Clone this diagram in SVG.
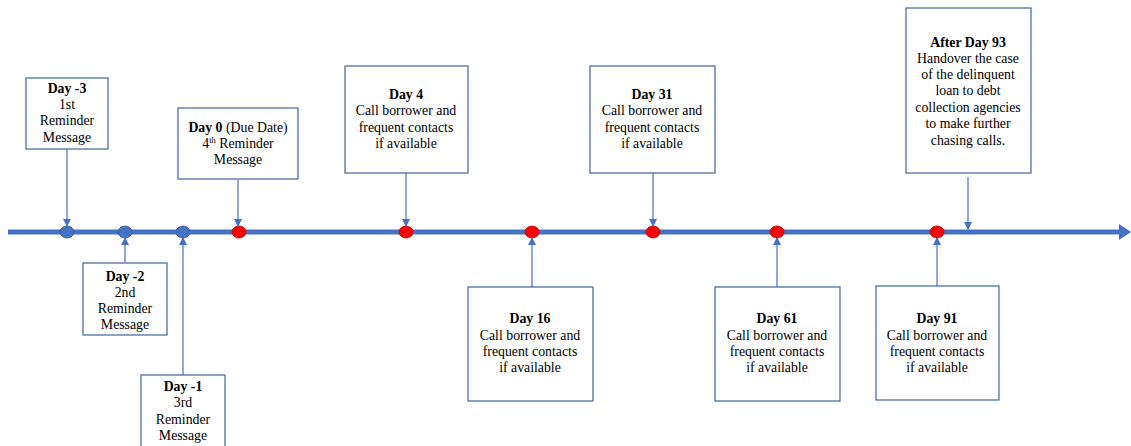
<svg xmlns="http://www.w3.org/2000/svg" width="1131" height="446" viewBox="0 0 1131 446">
<defs>
<marker id="ah" markerWidth="8" markerHeight="8" refX="7" refY="4" orient="auto" markerUnits="userSpaceOnUse">
<path d="M0,0 L8,4 L0,8 Z" fill="#4472C4"/>
</marker>
<style>
.box{fill:#fff;stroke:#41639F;stroke-width:1.2}
.t{font-family:"Liberation Serif","Times New Roman",serif;font-size:13.8px;fill:#000;text-anchor:middle}
.b{font-weight:bold}
.c{stroke:#4472C4;stroke-width:1.2;fill:none;marker-end:url(#ah)}
.bd{fill:#4472C4;stroke:#2F5597;stroke-width:0.8}
.rd{fill:#FF0000;stroke:#C00000;stroke-width:0.8}
</style>
</defs>
<rect width="1131" height="446" fill="#fff"/>
<g id="timeline">
<line x1="8" y1="232" x2="1120" y2="232" stroke="#4472C4" stroke-width="5"/>
<path d="M1119,224 L1131,232 L1119,240 Z" fill="#4472C4"/>
<ellipse class="bd" cx="67" cy="232" rx="7" ry="6"/>
<ellipse class="bd" cx="125" cy="232" rx="7" ry="6"/>
<ellipse class="bd" cx="183" cy="232" rx="7" ry="6"/>
<ellipse class="rd" cx="239" cy="232" rx="7" ry="6"/>
<ellipse class="rd" cx="406" cy="232" rx="7" ry="6"/>
<ellipse class="rd" cx="532" cy="232" rx="7" ry="6"/>
<ellipse class="rd" cx="653" cy="232" rx="7" ry="6"/>
<ellipse class="rd" cx="777" cy="232" rx="7" ry="6"/>
<ellipse class="rd" cx="937" cy="232" rx="7" ry="6"/>
</g>
<g id="connectors">
<line class="c" x1="67" y1="149" x2="67" y2="226"/>
<line class="c" x1="238" y1="180" x2="238" y2="226"/>
<line class="c" x1="406" y1="173" x2="406" y2="226"/>
<line class="c" x1="653" y1="173" x2="653" y2="226"/>
<line class="c" x1="968" y1="177" x2="968" y2="229"/>
<line class="c" x1="125" y1="262" x2="125" y2="238"/>
<line class="c" x1="183" y1="375" x2="183" y2="238"/>
<line class="c" x1="532" y1="287" x2="532" y2="238"/>
<line class="c" x1="777" y1="287" x2="777" y2="238"/>
<line class="c" x1="937" y1="286" x2="937" y2="238"/>
</g>
<g id="day-3">
<rect class="box" x="26" y="78" width="82" height="71"/>
<text class="t"><tspan class="b" x="67" y="93">Day -3</tspan><tspan x="67" y="109">1st</tspan><tspan x="67" y="125">Reminder</tspan><tspan x="67" y="142">Message</tspan></text>
</g>
<g id="day0">
<rect class="box" x="178" y="108" width="120" height="71"/>
<text class="t" x="238" y="132"><tspan class="b">Day 0</tspan> (Due Date)</text>
<text class="t" x="238" y="148">4<tspan font-size="8.5" dy="-5">th</tspan><tspan dy="5"> Reminder</tspan></text>
<text class="t" x="238" y="164">Message</text>
</g>
<g id="day-2">
<rect class="box" x="83" y="263" width="84" height="72"/>
<text class="t"><tspan class="b" x="125" y="281">Day -2</tspan><tspan x="125" y="297">2nd</tspan><tspan x="125" y="313">Reminder</tspan><tspan x="125" y="329">Message</tspan></text>
</g>
<g id="day-1">
<rect class="box" x="141" y="375" width="84" height="80"/>
<text class="t"><tspan class="b" x="183" y="391">Day -1</tspan><tspan x="183" y="407">3rd</tspan><tspan x="183" y="424">Reminder</tspan><tspan x="183" y="440">Message</tspan></text>
</g>
<g id="day4">
<rect class="box" x="345" y="66" width="123" height="107"/>
<text class="t"><tspan class="b" x="406" y="99">Day 4</tspan><tspan x="406" y="115">Call borrower and</tspan><tspan x="406" y="132">frequent contacts</tspan><tspan x="406" y="148">if available</tspan></text>
</g>
<g id="day31">
<rect class="box" x="590" y="66" width="125" height="107"/>
<text class="t"><tspan class="b" x="652" y="99">Day 31</tspan><tspan x="652" y="115">Call borrower and</tspan><tspan x="652" y="132">frequent contacts</tspan><tspan x="652" y="148">if available</tspan></text>
</g>
<g id="after-day93">
<rect class="box" x="906" y="8" width="125" height="165"/>
<text class="t"><tspan class="b" x="968" y="47">After Day 93</tspan><tspan x="968" y="63">Handover the case</tspan><tspan x="968" y="79">of the delinquent</tspan><tspan x="968" y="95">loan to debt</tspan><tspan x="968" y="112">collection agencies</tspan><tspan x="968" y="128">to make further</tspan><tspan x="968" y="145">chasing calls.</tspan></text>
</g>
<g id="day16">
<rect class="box" x="468" y="287" width="125" height="114"/>
<text class="t"><tspan class="b" x="530" y="323">Day 16</tspan><tspan x="530" y="340">Call borrower and</tspan><tspan x="530" y="356">frequent contacts</tspan><tspan x="530" y="372">if available</tspan></text>
</g>
<g id="day61">
<rect class="box" x="715" y="287" width="125" height="114"/>
<text class="t"><tspan class="b" x="777" y="323">Day 61</tspan><tspan x="777" y="340">Call borrower and</tspan><tspan x="777" y="356">frequent contacts</tspan><tspan x="777" y="372">if available</tspan></text>
</g>
<g id="day91">
<rect class="box" x="876" y="286" width="123" height="114"/>
<text class="t"><tspan class="b" x="937" y="323">Day 91</tspan><tspan x="937" y="340">Call borrower and</tspan><tspan x="937" y="356">frequent contacts</tspan><tspan x="937" y="372">if available</tspan></text>
</g>
</svg>
